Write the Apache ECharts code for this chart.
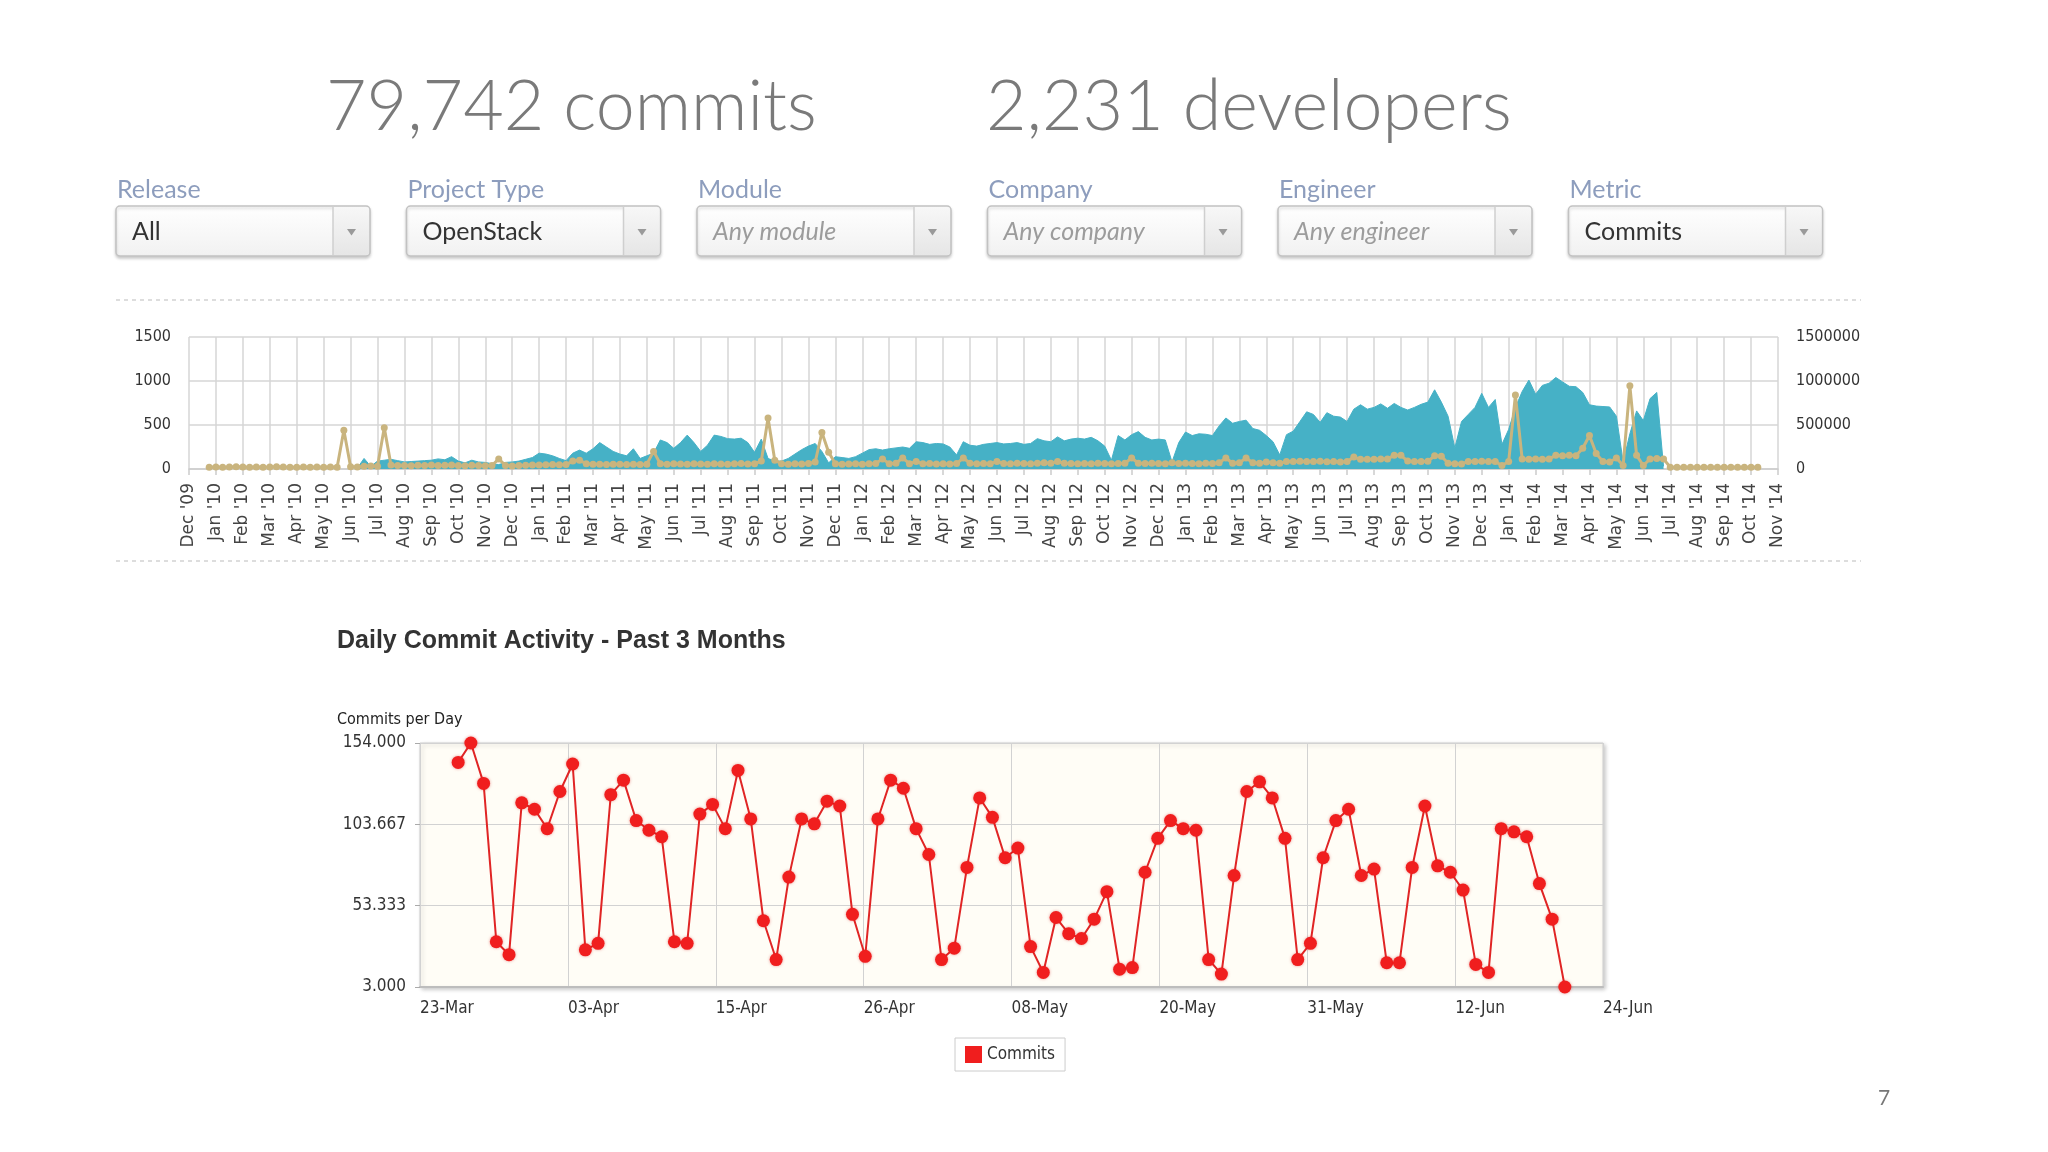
<!DOCTYPE html>
<html><head><meta charset="utf-8">
<script src="https://cdn.jsdelivr.net/npm/echarts@6.0.0/dist/echarts.min.js"></script>
<style>html,body{margin:0;padding:0;background:#fff;}#c{width:2048px;height:1152px;}</style>
</head><body><div id="c"></div><script>
// ---------- header texts ----------
const headlineTexts = ['79,742 commits', '2,231 developers'];
const filterLabels = ['Release', 'Project Type', 'Module', 'Company', 'Engineer', 'Metric'];
const filterValues = ['All', 'OpenStack', 'Any module', 'Any company', 'Any engineer', 'Commits'];
const filterIsPlaceholder = [false, false, true, true, true, false];

// ---------- top chart (monthly axis, weekly samples) ----------
const monthLabels = ["Dec '09","Jan '10","Feb '10","Mar '10","Apr '10","May '10","Jun '10","Jul '10","Aug '10","Sep '10","Oct '10","Nov '10",
"Dec '10","Jan '11","Feb '11","Mar '11","Apr '11","May '11","Jun '11","Jul '11","Aug '11","Sep '11","Oct '11","Nov '11",
"Dec '11","Jan '12","Feb '12","Mar '12","Apr '12","May '12","Jun '12","Jul '12","Aug '12","Sep '12","Oct '12","Nov '12",
"Dec '12","Jan '13","Feb '13","Mar '13","Apr '13","May '13","Jun '13","Jul '13","Aug '13","Sep '13","Oct '13","Nov '13",
"Dec '13","Jan '14","Feb '14","Mar '14","Apr '14","May '14","Jun '14","Jul '14","Aug '14","Sep '14","Oct '14","Nov '14"];
const sampleStep = 0.25;            // one sample per quarter month (weekly)
// teal area (right axis), values in thousands, starting at month index 6.25
const tealStart = 6.25;
const tealThousands = [
 10,120,30,
 90,100,110,95, 80,85,90,95, 100,115,105,140, 90,70,100,80, 75,60,50,75,
 80,90,110,130, 180,170,150,120, 95,180,215,180, 230,300,250,200, 170,150,230,120,
 150,180,330,300, 235,300,385,300, 200,270,385,370,
 345,340,350,300, 190,340,120,90, 90,120,170,220, 260,290,200,70,
 140,130,120,140, 180,220,230,215, 230,240,250,235, 310,300,280,290,
 285,250,160,310, 270,260,280,290, 300,285,290,300, 280,290,345,320,
 310,365,320,340, 350,340,360,320, 260,100,380,330, 390,425,360,330,
 340,330,80,300, 420,380,400,395, 380,490,580,520, 540,555,460,440,
 380,310,160,390, 430,540,650,620, 530,640,600,590, 540,680,730,680,
 700,740,690,745, 700,670,700,735, 760,900,760,600, 240,540,620,700,
 860,700,790,280, 450,700,880,1010, 850,950,975,1040, 990,940,935,870,
 730,715,710,705, 600,80,400,660, 550,800,870,30
];
// gold line (left axis), starting at month index 0.75
const goldStart = 0.75;
const goldValues = [
 20,
 22,20,22,25, 22,20,22,20, 22,25,22,20, 20,22,20,22, 20,22,20,440,
 25,22,30,35, 30,470,45,40, 40,38,42,40, 45,40,42,45, 40,38,42,40, 38,40,115,40,
 35,40,42,45, 45,48,50,48, 50,90,100,60, 55,55,52,55, 55,50,55,50, 55,200,60,55,
 60,58,55,60, 58,55,60,58, 55,60,62,58, 60,90,580,100, 60,55,60,58, 62,80,415,190,
 60,55,58,60, 55,60,62,115, 60,65,125,60, 85,60,62,58, 60,58,62,125, 65,60,62,60,
 85,62,60,65, 62,60,65,70, 65,85,65,62, 60,62,60,65, 62,60,62,65, 125,65,62,65,
 62,60,70,62, 65,62,60,65, 62,70,125,65, 70,125,70,65, 80,70,65,85, 85,88,85,85,
 88,82,85,80, 85,135,110,112, 110,115,115,155, 155,90,85,85, 88,150,145,65, 60,58,85,85,
 88,85,85,40, 85,840,115,110, 115,110,115,155, 150,155,150,235, 380,175,85,80, 125,40,945,155,
 40,115,120,115, 20,20,20,20, 20,20,20,20, 20,20,20,20, 20,20
];

// ---------- bottom chart (daily, days after 23-Mar) ----------
const dayTickLabels = ['23-Mar','03-Apr','15-Apr','26-Apr','08-May','20-May','31-May','12-Jun','24-Jun'];
const dayAxisSpan = 93;             // 23-Mar .. 24-Jun
const commitsStartDay = 3;          // 26-Mar
const commitsPerDay = [
 142,154,129,31,23,117,113,101,124,141,26,30,122,131,106,100,96,31,30,110,116,101,137,107,44,20,71,107,104,
 118,115,48,22,107,131,126,101,85,20,27,77,120,108,83,89,28,12,46,36,33,45,62,14,15,74,95,106,101,100,20,11,
 72,124,130,120,95,20,30,83,106,113,72,76,18,18,77,115,78,74,63,17,12,101,99,96,67,45,3
];
const commitsYMin = 3, commitsYMax = 154;

// ---------- build ----------
const tealData = tealThousands.map((v, i) => [tealStart + i * sampleStep, v * 1000]);
const goldData = goldValues.map((v, i) => [goldStart + i * sampleStep, v]);
const commitsData = commitsPerDay.map((v, i) => [commitsStartDay + i, v]);

const COND = "'DejaVu Sans Condensed','Liberation Sans Narrow','DejaVu Sans',sans-serif";
const graphics = [];
// headline
graphics.push({type:'text', x:326, y:107, style:{text:headlineTexts[0], fontSize:70, fontFamily:'Lato', fontWeight:300, fill:'#7a7a7a', align:'left', verticalAlign:'middle', textAlign:'left', textVerticalAlign:'middle'}});
graphics.push({type:'text', x:986, y:107, style:{text:headlineTexts[1], fontSize:70, fontFamily:'Lato', fontWeight:300, fill:'#7a7a7a', align:'left', verticalAlign:'middle', textAlign:'left', textVerticalAlign:'middle'}});
// filters
filterLabels.forEach((lab, i) => {
  const bx = 116 + i * 290.5, by = 206, bw = 254, bh = 50;
  graphics.push({type:'text', x:bx + 1, y:190, style:{text:lab, fontSize:25, fontFamily:'Lato', fill:'#8d9dbd', align:'left', verticalAlign:'middle', textAlign:'left', textVerticalAlign:'middle'}});
  graphics.push({type:'rect', shape:{x:bx, y:by, width:bw, height:bh, r:4},
    style:{fill:new echarts.graphic.LinearGradient(0,0,0,1,[{offset:0,color:'#ffffff'},{offset:1,color:'#f1f1f1'}]), stroke:'#c2c2c2', lineWidth:1.5, shadowBlur:3, shadowOffsetY:2, shadowColor:'rgba(0,0,0,0.18)'}});
  graphics.push({type:'rect', shape:{x:bx + bw - 37, y:by + 1, width:36, height:bh - 2, r:[0,3,3,0]},
    style:{fill:new echarts.graphic.LinearGradient(0,0,0,1,[{offset:0,color:'#f7f7f7'},{offset:1,color:'#e6e6e6'}])}});
  graphics.push({type:'line', shape:{x1:bx + bw - 37, y1:by + 1, x2:bx + bw - 37, y2:by + bh - 1}, style:{stroke:'#cfcfcf', lineWidth:1.5}});
  const ax = bx + bw - 18.5, ay = by + bh / 2 + 1;
  graphics.push({type:'polygon', shape:{points:[[ax - 4.5, ay - 3], [ax + 4.5, ay - 3], [ax, ay + 3.5]]}, style:{fill:'#9a9a9a'}});
  graphics.push({type:'text', x:bx + 16, y:by + bh / 2 + 1, style:{text:filterValues[i], fontSize:25, fontFamily:'Lato', fontStyle:filterIsPlaceholder[i] ? 'italic' : 'normal', fill:filterIsPlaceholder[i] ? '#9c9c9c' : '#333', align:'left', verticalAlign:'middle', textAlign:'left', textVerticalAlign:'middle'}});
});
// dotted separators
[300, 561].forEach(y => graphics.push({type:'line', shape:{x1:116, y1:y, x2:1861, y2:y}, style:{stroke:'#dddddd', lineWidth:2, lineDash:[4,4]}}));
// bottom chart titles
graphics.push({type:'text', x:337, y:641, style:{text:'Daily Commit Activity - Past 3 Months', fontSize:25, fontWeight:'bold', fontFamily:"'Liberation Sans',Arial,sans-serif", fill:'#333', align:'left', verticalAlign:'middle', textAlign:'left', textVerticalAlign:'middle'}});
graphics.push({type:'text', x:337, y:720, style:{text:'Commits per Day', fontSize:16, fontFamily:COND, fill:'#222', align:'left', verticalAlign:'middle', textAlign:'left', textVerticalAlign:'middle'}});
// page number
graphics.push({type:'text', x:1884, y:1098, style:{text:'7', fontSize:21, fontFamily:'Lato', fill:'#777', align:'center', verticalAlign:'middle', textAlign:'center', textVerticalAlign:'middle'}});

const chart = echarts.init(document.getElementById('c'), null, {renderer:'canvas'});
chart.setOption({
  animation:false,
  backgroundColor:'#ffffff',
  graphic:{elements:graphics},
  legend:{data:['Commits'], left:955, top:1038, padding:[8,10,8,10], itemWidth:17, itemHeight:17, itemGap:6,
    icon:'rect', borderColor:'#cccccc', borderWidth:1, selectedMode:false,
    textStyle:{fontSize:17, fontFamily:COND, color:'#333'}},
  grid:[
    {left:189, top:337, width:1589, height:132},
    {left:420, top:743, width:1183, height:244, show:true, backgroundColor:'#fffdf6', borderColor:'#cfcfcf', borderWidth:1,
     shadowColor:'rgba(0,0,0,0.22)', shadowBlur:4, shadowOffsetX:2, shadowOffsetY:2}
  ],
  xAxis:[
    {gridIndex:0, type:'value', min:0, max:monthLabels.length - 1, interval:1,
     axisLine:{lineStyle:{color:'#cccccc', width:1.5}}, axisTick:{show:true, length:6, lineStyle:{color:'#cccccc', width:1.5}},
     splitLine:{show:true, lineStyle:{color:'#d6d6d6', width:1.5}},
     axisLabel:{rotate:90, margin:14, fontSize:17, fontFamily:"'DejaVu Sans',sans-serif", color:'#444',
       formatter:v => monthLabels[Math.round(v)] || ''}},
    {gridIndex:1, type:'value', min:0, max:dayAxisSpan, interval:dayAxisSpan / (dayTickLabels.length - 1),
     axisLine:{lineStyle:{color:'#bdbdbd', width:2}}, axisTick:{show:false},
     splitLine:{show:true, lineStyle:{color:'#d2d2d2', width:1}},
     axisLabel:{align:'left', margin:13, fontSize:17, fontFamily:COND, color:'#333',
       formatter:v => dayTickLabels[Math.round(v / (dayAxisSpan / (dayTickLabels.length - 1)))] || ''}}
  ],
  yAxis:[
    {gridIndex:0, type:'value', min:0, max:1500, interval:500, position:'left',
     axisLine:{show:false}, axisTick:{show:false},
     splitLine:{show:true, lineStyle:{color:'#d6d6d6', width:1.5}},
     axisLabel:{margin:18, fontSize:16, fontFamily:COND, color:'#333', formatter:v => String(v)}},
    {gridIndex:0, type:'value', min:0, max:1500000, interval:500000, position:'right',
     axisLine:{show:false}, axisTick:{show:false}, splitLine:{show:false},
     axisLabel:{margin:18, fontSize:16, fontFamily:COND, color:'#333', formatter:v => String(v)}},
    {gridIndex:1, type:'value', min:commitsYMin, max:commitsYMax, interval:(commitsYMax - commitsYMin) / 3,
     axisLine:{show:false}, axisTick:{show:true, length:5, lineStyle:{color:'#aaa'}},
     splitLine:{show:true, lineStyle:{color:'#d2d2d2', width:1}},
     axisLabel:{margin:14, fontSize:17, fontFamily:COND, color:'#333', formatter:v => v.toFixed(3)}}
  ],
  series:[
    {name:'Total', type:'line', xAxisIndex:0, yAxisIndex:1, data:tealData, symbol:'none', z:2,
     lineStyle:{color:'#46b1c6', width:1}, areaStyle:{color:'#46b1c6', opacity:1}},
    {name:'Monthly', type:'line', xAxisIndex:0, yAxisIndex:0, data:goldData, symbol:'circle', symbolSize:7, z:3,
     itemStyle:{color:'#c9b47e'}, lineStyle:{color:'#c9b47e', width:3}},
    {name:'Commits', type:'line', xAxisIndex:1, yAxisIndex:2, data:commitsData, symbol:'circle', symbolSize:13, z:3,
     itemStyle:{color:'#f01e1e', shadowBlur:3, shadowColor:'rgba(200,0,0,0.4)'}, lineStyle:{color:'#e02525', width:2}}
  ]
});
</script></body></html>
